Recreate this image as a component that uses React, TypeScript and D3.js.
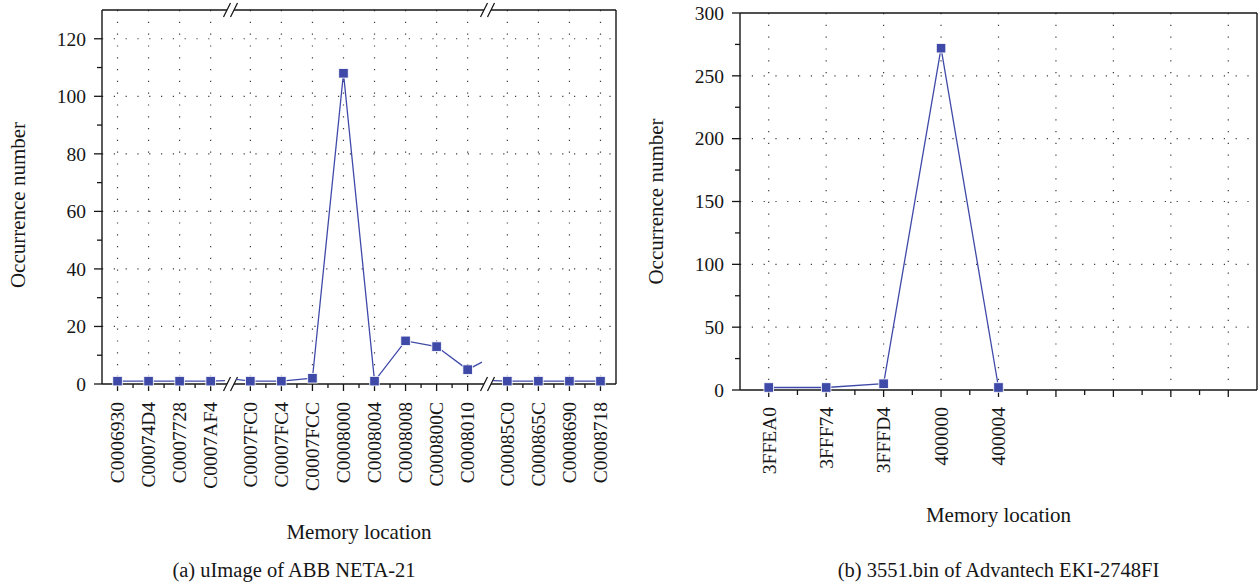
import * as d3 from 'd3';

// ---- data: (a) uImage of ABB NETA-21 ----
const leftCategories = [
  'C0006930', 'C00074D4', 'C0007728', 'C0007AF4',
  'C0007FC0', 'C0007FC4', 'C0007FCC', 'C0008000', 'C0008004',
  'C0008008', 'C000800C', 'C0008010',
  'C00085C0', 'C000865C', 'C0008690', 'C0008718',
];
const leftValues = [1, 1, 1, 1, 1, 1, 2, 108, 1, 15, 13, 5, 1, 1, 1, 1];
// axis breaks come after these category indexes
const leftBreakAfter = [3, 11];
// value of the line where it is cut on each side of a break
const leftBreakExit = [1.2, 7.6];
const leftBreakEntry = [1.6, 1.2];
const leftYTicks = [0, 20, 40, 60, 80, 100, 120];
const leftYMinor = [10, 30, 50, 70, 90, 110];
const leftYMax = 130;

// ---- data: (b) 3551.bin of Advantech EKI-2748FI ----
const rightCategories = ['3FFEA0', '3FFF74', '3FFFD4', '400000', '400004', '', '', '', ''];
const rightValues = [2, 2, 5, 272, 2];
const rightYTicks = [0, 50, 100, 150, 200, 250, 300];
const rightYMinor = [25, 75, 125, 175, 225, 275];
const rightYMax = 300;

const BLUE = '#3f4aa8';
const INK = '#161616';
const GRID = '#3a3a3a';
const FONT = '"Liberation Serif", "Times New Roman", serif';
const TICK_FS = 19.5;
const TITLE_FS = 21;

function Marker({ x, y }: { x: number; y: number }) {
  const s = 9.5;
  return <rect x={x - s / 2} y={y - s / 2} width={s} height={s} fill={BLUE} stroke="#fff" strokeWidth={0.8} />;
}

function BreakMark({ x, y }: { x: number; y: number }) {
  const hw = 3.5, hh = 7, sep = 3.5;
  return (
    <g>
      <polygon
        points={`${x - sep - hw},${y + hh} ${x - sep + hw},${y - hh} ${x + sep + hw},${y - hh} ${x + sep - hw},${y + hh}`}
        fill="#fff"
      />
      <line x1={x - sep - hw} y1={y + hh} x2={x - sep + hw} y2={y - hh} stroke={INK} strokeWidth={1.3} />
      <line x1={x + sep - hw} y1={y + hh} x2={x + sep + hw} y2={y - hh} stroke={INK} strokeWidth={1.3} />
    </g>
  );
}

function YAxis({ y, ticks, minor, x0 }: { y: d3.ScaleLinear<number, number>; ticks: number[]; minor: number[]; x0: number }) {
  return (
    <g>
      {ticks.map((t) => (
        <g key={'t' + t}>
          <line x1={x0 - 8} x2={x0} y1={y(t)} y2={y(t)} stroke={INK} strokeWidth={1.3} />
          <text x={x0 - 16} y={y(t)} dy="0.35em" textAnchor="end" fontSize={TICK_FS} fontFamily={FONT} fill={INK}>
            {t}
          </text>
        </g>
      ))}
      {minor.map((t) => (
        <line key={'m' + t} x1={x0 - 5} x2={x0} y1={y(t)} y2={y(t)} stroke={INK} strokeWidth={1.3} />
      ))}
    </g>
  );
}

function LeftChart() {
  const L = 102, R = 616, T = 10, B = 384;
  const n = leftCategories.length;
  const gapExtra = 0.28;
  const step = (R - L) / (n + leftBreakAfter.length * gapExtra);
  const pos = (i: number) => L + step * (0.5 + i + gapExtra * leftBreakAfter.filter((b) => b < i).length);
  const knots = [0, ...leftBreakAfter.flatMap((b) => [b, b + 1]), n - 1];
  const x = d3.scaleLinear().domain(knots).range(knots.map(pos));
  const y = d3.scaleLinear().domain([0, leftYMax]).range([B, T]);

  const pts: [number, number][] = leftValues.map((v, i) => [i, v]);
  const segments: [number, number][][] = [];
  let start = 0;
  leftBreakAfter.forEach((b, k) => {
    const seg = pts.slice(start, b + 1);
    if (k > 0) seg.unshift([leftBreakAfter[k - 1] + 0.64, leftBreakEntry[k - 1]]);
    seg.push([b + 0.36, leftBreakExit[k]]);
    segments.push(seg);
    start = b + 1;
  });
  const last = pts.slice(start);
  last.unshift([leftBreakAfter[leftBreakAfter.length - 1] + 0.64, leftBreakEntry[leftBreakEntry.length - 1]]);
  segments.push(last);

  const line = d3.line<[number, number]>().x((d) => x(d[0])).y((d) => y(d[1]));
  const minorX = d3.range(n - 1).filter((i) => !leftBreakAfter.includes(i)).map((i) => i + 0.5);

  return (
    <g>
      {leftYTicks.filter((t) => t > 0).map((t) => (
        <line key={'hg' + t} x1={L} x2={R} y1={y(t)} y2={y(t)} stroke={GRID} strokeWidth={1.2} strokeDasharray="1.2 10.6" />
      ))}
      {leftCategories.map((c, i) => (
        <line key={'vg' + c} x1={x(i)} x2={x(i)} y1={T} y2={B} stroke={GRID} strokeWidth={1.2} strokeDasharray="1.2 10.6" />
      ))}
      <line x1={L} x2={R} y1={T} y2={T} stroke={INK} strokeWidth={1.4} />
      <line x1={R} x2={R} y1={T} y2={B} stroke={INK} strokeWidth={1.4} />
      <line x1={L} x2={R} y1={B} y2={B} stroke={INK} strokeWidth={1.4} />
      <line x1={L} x2={L} y1={T} y2={B} stroke={INK} strokeWidth={1.4} />
      {leftCategories.map((c, i) => (
        <g key={'xt' + c}>
          <line x1={x(i)} x2={x(i)} y1={B} y2={B + 7} stroke={INK} strokeWidth={1.3} />
          <text
            transform={`translate(${x(i)},${B + 18}) rotate(-90)`}
            dy="0.35em"
            textAnchor="end"
            fontSize={TICK_FS}
            fontFamily={FONT}
            fill={INK}
          >
            {c}
          </text>
        </g>
      ))}
      {minorX.map((m) => (
        <line key={'mx' + m} x1={x(m)} x2={x(m)} y1={B} y2={B + 4} stroke={INK} strokeWidth={1.3} />
      ))}
      <YAxis y={y} ticks={leftYTicks} minor={leftYMinor} x0={L} />
      {leftBreakAfter.map((b) => (
        <g key={'br' + b}>
          <BreakMark x={x(b + 0.5)} y={T} />
          <BreakMark x={x(b + 0.5)} y={B} />
        </g>
      ))}
      {segments.map((s, k) => (
        <path key={'seg' + k} d={line(s) ?? ''} fill="none" stroke={BLUE} strokeWidth={1.3} />
      ))}
      {leftValues.map((v, i) => (
        <Marker key={'mk' + i} x={x(i)} y={y(v)} />
      ))}
      <text x={(L + R) / 2} y={539} textAnchor="middle" fontSize={TITLE_FS} fontFamily={FONT} fill={INK}>
        Memory location
      </text>
      <text transform={`translate(25,${(T + B) / 2 + 8}) rotate(-90)`} textAnchor="middle" fontSize={TITLE_FS} fontFamily={FONT} fill={INK}>
        Occurrence number
      </text>
      <text x={(L + R) / 2 - 65} y={577} textAnchor="middle" fontSize={TITLE_FS - 0.5} fontFamily={FONT} fill={INK}>
        (a) uImage of ABB NETA-21
      </text>
    </g>
  );
}

function RightChart() {
  const L = 740, R = 1257, T = 13, B = 390;
  const slots = d3.range(rightCategories.length);
  const x = d3.scalePoint<number>().domain(slots).range([L, R]).padding(0.5);
  const y = d3.scaleLinear().domain([0, rightYMax]).range([B, T]);
  const step = x.step();
  const line = d3.line<number>().x((_, i) => x(i) as number).y((d) => y(d));

  return (
    <g>
      {rightYTicks.filter((t) => t > 0 && t < rightYMax).map((t) => (
        <line key={'hg' + t} x1={L} x2={R} y1={y(t)} y2={y(t)} stroke={GRID} strokeWidth={1.2} strokeDasharray="1.2 10.6" />
      ))}
      {slots.map((i) => (
        <line key={'vg' + i} x1={x(i)} x2={x(i)} y1={T} y2={B} stroke={GRID} strokeWidth={1.2} strokeDasharray="1.2 10.6" />
      ))}
      <line x1={L} x2={R} y1={T} y2={T} stroke={INK} strokeWidth={1.4} />
      <line x1={R} x2={R} y1={T} y2={B} stroke={INK} strokeWidth={1.4} />
      <line x1={L} x2={R} y1={B} y2={B} stroke={INK} strokeWidth={1.4} />
      <line x1={L} x2={L} y1={T} y2={B} stroke={INK} strokeWidth={1.4} />
      {slots.map((i) => (
        <g key={'xt' + i}>
          <line x1={x(i)} x2={x(i)} y1={B} y2={B + 7} stroke={INK} strokeWidth={1.3} />
          {i < slots.length - 1 && (
            <line x1={(x(i) as number) + step / 2} x2={(x(i) as number) + step / 2} y1={B} y2={B + 5} stroke={INK} strokeWidth={1.3} />
          )}
          <text
            transform={`translate(${x(i)},${B + 17}) rotate(-90)`}
            dy="0.35em"
            textAnchor="end"
            fontSize={TICK_FS}
            fontFamily={FONT}
            fill={INK}
          >
            {rightCategories[i]}
          </text>
        </g>
      ))}
      <YAxis y={y} ticks={rightYTicks} minor={rightYMinor} x0={L} />
      <path d={line(rightValues) ?? ''} fill="none" stroke={BLUE} strokeWidth={1.3} />
      {rightValues.map((v, i) => (
        <Marker key={'mk' + i} x={x(i) as number} y={y(v)} />
      ))}
      <text x={(L + R) / 2} y={522} textAnchor="middle" fontSize={TITLE_FS} fontFamily={FONT} fill={INK}>
        Memory location
      </text>
      <text transform={`translate(663,${(T + B) / 2}) rotate(-90)`} textAnchor="middle" fontSize={TITLE_FS} fontFamily={FONT} fill={INK}>
        Occurrence number
      </text>
      <text x={(L + R) / 2} y={577} textAnchor="middle" fontSize={TITLE_FS - 0.5} fontFamily={FONT} fill={INK}>
        (b) 3551.bin of Advantech EKI-2748FI
      </text>
    </g>
  );
}

export default function App() {
  return (
    <svg
      width={1260}
      height={586}
      viewBox="0 0 1260 586"
      style={{ position: 'absolute', left: 0, top: 0, background: '#fff' }}
    >
      <rect width={1260} height={586} fill="#fff" />
      <LeftChart />
      <RightChart />
    </svg>
  );
}
